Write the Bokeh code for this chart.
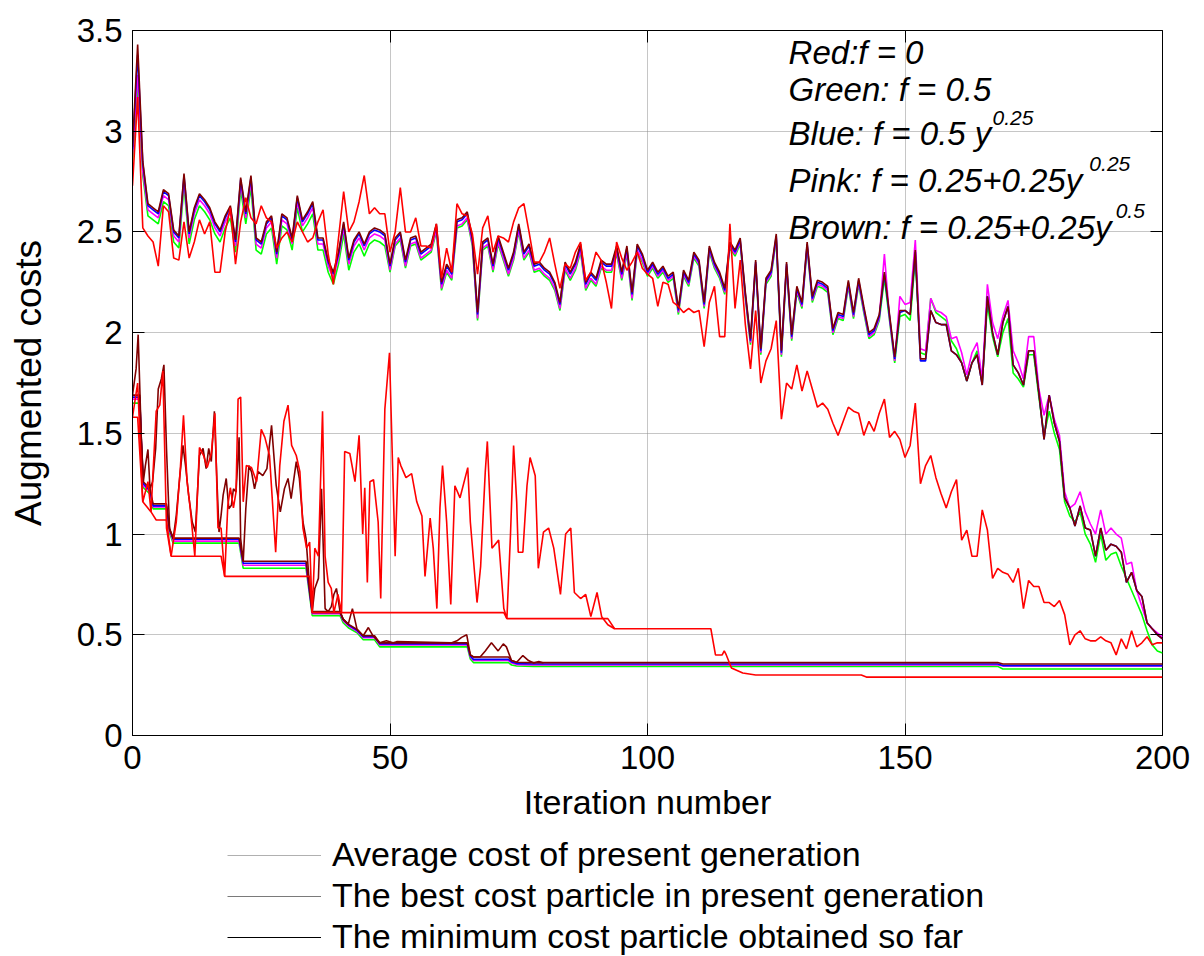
from bokeh.plotting import figure
from bokeh.layouts import column
from bokeh.models import (Range1d, FixedTicker, CustomJSTickFormatter, LinearAxis,
                          Legend, LegendItem, Label)
from bokeh.embed import file_html
from bokeh.resources import INLINE

FONT = "Liberation Sans"

# ---------------- data ----------------
iters = list(range(201))

avg_brown = [2.92,3.43,2.85,2.64,2.62,2.60,2.71,2.69,2.51,2.48,
             2.79,2.50,2.62,2.69,2.66,2.62,2.55,2.51,2.58,2.63,
             2.46,2.77,2.60,2.78,2.47,2.45,2.55,2.58,2.40,2.59,
             2.57,2.47,2.68,2.56,2.60,2.65,2.47,2.47,2.36,2.30,
             2.40,2.55,2.37,2.46,2.50,2.44,2.50,2.52,2.51,2.49,
             2.34,2.47,2.50,2.36,2.47,2.48,2.40,2.42,2.44,2.54,
             2.25,2.34,2.30,2.56,2.57,2.60,2.47,2.10,2.45,2.47,
             2.34,2.48,2.40,2.32,2.40,2.54,2.40,2.44,2.34,2.35,
             2.32,2.30,2.25,2.15,2.35,2.30,2.35,2.44,2.25,2.30,
             2.27,2.36,2.34,2.34,2.43,2.30,2.43,2.20,2.44,2.39,
             2.31,2.35,2.30,2.33,2.28,2.30,2.12,2.31,2.26,2.40,
             2.36,2.15,2.43,2.35,2.30,2.22,2.45,2.41,2.47,2.20,
             1.97,2.36,1.92,2.27,2.31,2.49,1.91,2.35,1.99,2.23,
             2.15,2.45,2.18,2.26,2.25,2.23,2.02,2.10,2.09,2.26,
             2.10,2.27,2.13,2.00,2.02,2.09,2.30,2.09,1.88,2.11,
             2.11,2.09,2.41,1.87,1.87,2.11,2.05,2.04,2.04,1.91,
             1.89,1.85,1.76,1.85,1.89,1.74,2.18,2.00,1.89,2.05,
             2.13,1.84,1.80,1.74,1.91,1.91,1.70,1.47,1.69,1.55,
             1.46,1.18,1.13,1.04,1.14,1.03,1.02,0.89,1.03,0.92,
             0.95,0.94,0.91,0.76,0.81,0.72,0.69,0.56,0.53,0.50,
             0.48]

avg_blue = [2.91,3.38,2.84,2.63,2.61,2.59,2.70,2.68,2.50,2.47,
            2.78,2.49,2.61,2.68,2.65,2.61,2.54,2.50,2.57,2.62,
            2.45,2.76,2.59,2.77,2.46,2.44,2.54,2.57,2.39,2.58,
            2.56,2.46,2.67,2.55,2.59,2.64,2.46,2.46,2.35,2.29,
            2.39,2.54,2.36,2.45,2.49,2.43,2.49,2.51,2.50,2.48,
            2.33,2.46,2.49,2.35,2.46,2.47,2.39,2.41,2.43,2.53,
            2.24,2.33,2.29,2.55,2.56,2.59,2.46,2.09,2.44,2.46,
            2.33,2.47,2.39,2.31,2.39,2.53,2.39,2.43,2.33,2.34,
            2.31,2.29,2.24,2.14,2.34,2.29,2.34,2.43,2.24,2.29,
            2.26,2.35,2.33,2.33,2.42,2.29,2.42,2.19,2.43,2.38,
            2.30,2.34,2.29,2.32,2.27,2.29,2.11,2.30,2.25,2.39,
            2.35,2.14,2.42,2.34,2.29,2.21,2.44,2.40,2.46,2.19,
            1.96,2.35,1.91,2.26,2.30,2.48,1.90,2.34,1.98,2.22,
            2.14,2.44,2.17,2.25,2.24,2.22,2.01,2.09,2.08,2.25,
            2.09,2.26,2.12,1.99,2.01,2.08,2.29,2.08,1.87,2.10,
            2.11,2.09,2.40,1.86,1.86,2.11,2.05,2.04,2.04,1.91,
            1.89,1.85,1.76,1.85,1.89,1.74,2.18,2.00,1.89,2.05,
            2.13,1.84,1.80,1.74,1.91,1.91,1.70,1.47,1.69,1.55,
            1.46,1.18,1.13,1.04,1.14,1.03,1.02,0.89,1.03,0.92,
            0.95,0.94,0.91,0.76,0.81,0.72,0.69,0.56,0.53,0.50,
            0.48]

avg_pink = [2.88,3.28,2.80,2.61,2.59,2.57,2.68,2.66,2.48,2.45,
            2.76,2.47,2.59,2.66,2.63,2.59,2.52,2.48,2.55,2.60,
            2.43,2.74,2.57,2.75,2.44,2.42,2.52,2.55,2.37,2.56,
            2.54,2.44,2.65,2.53,2.57,2.62,2.44,2.44,2.33,2.27,
            2.37,2.52,2.34,2.43,2.47,2.41,2.47,2.49,2.48,2.46,
            2.31,2.44,2.47,2.33,2.44,2.45,2.37,2.39,2.41,2.51,
            2.22,2.31,2.27,2.53,2.54,2.57,2.44,2.07,2.42,2.44,
            2.31,2.45,2.37,2.29,2.37,2.51,2.37,2.41,2.31,2.32,
            2.29,2.27,2.22,2.12,2.32,2.27,2.32,2.41,2.22,2.27,
            2.24,2.33,2.31,2.31,2.40,2.27,2.40,2.17,2.41,2.36,
            2.29,2.33,2.28,2.31,2.26,2.28,2.10,2.29,2.24,2.38,
            2.34,2.13,2.41,2.33,2.28,2.20,2.43,2.39,2.45,2.18,
            1.95,2.34,1.90,2.25,2.29,2.47,1.89,2.33,1.97,2.21,
            2.13,2.43,2.16,2.24,2.23,2.21,2.00,2.08,2.07,2.24,
            2.08,2.25,2.11,1.98,2.00,2.07,2.39,2.07,1.86,2.18,
            2.14,2.15,2.46,1.92,1.91,2.17,2.11,2.10,2.08,1.97,
            1.98,1.90,1.79,1.90,1.95,1.77,2.24,2.05,1.97,2.08,
            2.16,1.91,1.85,1.77,1.98,1.98,1.72,1.59,1.69,1.57,
            1.49,1.21,1.13,1.15,1.21,1.11,1.05,1.00,1.12,1.00,
            1.03,1.00,0.98,0.85,0.86,0.72,0.64,0.56,0.53,0.51,
            0.49]

avg_green = [2.85,3.23,2.78,2.58,2.56,2.54,2.65,2.63,2.45,2.42,
             2.73,2.44,2.56,2.63,2.60,2.56,2.49,2.45,2.52,2.57,
             2.40,2.71,2.54,2.72,2.41,2.39,2.49,2.52,2.34,2.53,
             2.51,2.41,2.62,2.50,2.54,2.59,2.41,2.41,2.30,2.24,
             2.34,2.49,2.31,2.40,2.44,2.38,2.44,2.46,2.45,2.43,
             2.30,2.43,2.46,2.32,2.43,2.44,2.36,2.38,2.40,2.50,
             2.21,2.30,2.26,2.52,2.53,2.56,2.43,2.06,2.41,2.43,
             2.30,2.44,2.36,2.28,2.36,2.50,2.36,2.40,2.30,2.31,
             2.28,2.26,2.21,2.11,2.31,2.26,2.31,2.40,2.21,2.26,
             2.23,2.32,2.30,2.30,2.39,2.26,2.39,2.16,2.40,2.35,
             2.28,2.32,2.27,2.30,2.25,2.27,2.09,2.28,2.23,2.37,
             2.33,2.12,2.40,2.32,2.27,2.19,2.42,2.38,2.44,2.17,
             1.94,2.33,1.89,2.24,2.28,2.46,1.88,2.32,1.96,2.20,
             2.12,2.42,2.15,2.23,2.22,2.20,1.99,2.07,2.06,2.23,
             2.07,2.24,2.10,1.97,1.99,2.06,2.27,2.06,1.85,2.08,
             2.09,2.06,2.37,1.90,1.89,2.17,2.10,2.08,2.06,1.96,
             1.92,1.85,1.76,1.85,1.91,1.75,2.14,1.98,1.88,2.00,
             2.07,1.80,1.77,1.73,1.89,1.89,1.68,1.49,1.61,1.50,
             1.42,1.16,1.09,1.06,1.11,1.00,0.95,0.86,1.00,0.87,
             0.90,0.91,0.84,0.78,0.72,0.66,0.60,0.52,0.45,0.42,
             0.41]

avg_red = [2.73,3.17,2.52,2.48,2.45,2.33,2.63,2.60,2.37,2.36,
           2.55,2.37,2.45,2.56,2.49,2.55,2.30,2.30,2.50,2.62,
           2.34,2.55,2.67,2.57,2.54,2.63,2.57,2.55,2.42,2.47,
           2.50,2.45,2.55,2.50,2.45,2.47,2.55,2.61,2.39,2.24,
           2.47,2.70,2.50,2.55,2.65,2.78,2.59,2.62,2.59,2.59,
           2.40,2.50,2.72,2.50,2.50,2.57,2.43,2.43,2.42,2.54,
           2.27,2.42,2.30,2.64,2.59,2.58,2.49,2.29,2.52,2.58,
           2.40,2.48,2.47,2.45,2.55,2.62,2.64,2.50,2.35,2.35,
           2.40,2.47,2.34,2.22,2.34,2.32,2.40,2.45,2.26,2.30,
           2.40,2.36,2.25,2.12,2.45,2.37,2.31,2.35,2.40,2.32,
           2.29,2.27,2.13,2.25,2.24,2.15,2.13,2.10,2.12,2.10,
           2.11,1.93,2.15,2.23,1.98,1.98,2.54,2.12,2.36,2.04,
           1.82,2.11,1.75,1.86,1.92,2.06,1.57,1.75,1.72,1.84,
           1.71,1.81,1.72,1.63,1.65,1.62,1.55,1.49,1.56,1.63,
           1.61,1.60,1.49,1.56,1.51,1.60,1.67,1.48,1.51,1.47,
           1.38,1.44,1.65,1.25,1.34,1.39,1.28,1.20,1.13,1.21,
           1.27,0.97,1.02,0.89,0.89,1.12,1.02,0.78,0.83,0.81,
           0.80,0.76,0.83,0.63,0.77,0.74,0.74,0.66,0.66,0.64,
           0.67,0.60,0.45,0.50,0.52,0.48,0.47,0.47,0.49,0.47,
           0.46,0.40,0.48,0.43,0.52,0.44,0.46,0.49,0.45,0.46,
           0.46]

# best particle of the present generation (the four non-zero f cases overlap)
best_x = [0,0.7,1.1,1.4,1.7,2.1,2.5,3.0,3.4,3.9,
          4.5,5.0,5.6,6.1,6.6,7.2,7.9,8.5,9.2,9.8,
          10.3,10.9,11.6,12.2,13.0,13.7,14.3,14.8,15.3,15.9,
          16.4,16.8,17.2,17.6,18.2,18.7,19.2,19.6,20.1,20.7,
          21.0,21.5,22.0,22.6,23.1,23.7,24.4,25.3,26.1,27.0,
          27.9,28.7,29.5,30.2,30.8,31.8,32.4,33.1,33.7,34.4,
          34.9,35.4,36.1,36.7,37.4,38.0,38.6,39.1,39.6,40.3,
          40.9,41.9,42.7,43.6,44.8,45.8,46.7,48.0,49.3,50.6,
          51.3,62.0,63.0,63.9,64.9,65.6,66.2,67.5,68.5,69.7,
          71.0,72.0,72.6,73.6,74.6,75.8,76.9,77.9,78.9,79.8]
best_y = [1.69,1.82,1.99,1.74,1.48,1.26,1.34,1.42,1.225,1.26,
          1.425,1.72,1.77,1.84,1.425,1.026,0.977,1.093,1.29,1.44,
          1.34,1.193,1.06,1.01,1.39,1.425,1.325,1.425,1.36,1.61,
          1.26,1.01,1.093,1.193,1.276,1.126,1.143,1.225,1.209,1.48,
          0.977,0.865,1.126,1.34,1.31,1.225,1.31,1.29,1.325,1.54,
          1.242,1.11,1.225,1.276,1.176,1.36,1.276,1.06,0.977,0.73,
          0.615,0.73,0.78,1.225,0.63,0.615,0.64,0.70,0.73,0.615,
          0.578,0.553,0.63,0.527,0.495,0.536,0.495,0.46,0.47,0.46,
          0.466,0.46,0.47,0.487,0.50,0.40,0.39,0.39,0.42,0.46,
          0.42,0.455,0.44,0.372,0.364,0.397,0.372,0.36,0.367,0.36]

best_red_x = [0,1,2,3,3.6,4.6,5.3,5.9,6.6,7.5,
              8.5,9.3,9.9,10.6,11.2,12.1,13.0,13.8,14.5,15.3,
              16.0,16.6,17.2,17.9,18.5,19.0,19.6,20.1,20.5,21.0,
              21.5,22.1,23.1,24.1,25.0,25.7,26.6,27.8,28.6,29.4,
              30.2,30.9,31.8,32.5,33.1,33.8,34.4,34.9,35.4,36.1,
              36.9,37.4,38.0,38.6,39.1,39.9,40.6,41.2,42.2,43.2,
              44.0,44.7,45.1,45.6,46.1,46.8,47.7,48.2,49.0,49.9,
              50.5,51.0,51.6,52.1,53.1,54.2,55.2,56.2,56.8,57.8,
              58.4,59.1,59.7,60.2,61.0,61.8,62.6,63.6,65.1,65.6,
              66.9,67.6,68.5,68.9,69.8,71.1,72.1,72.7,73.4,74.0,
              74.6,74.9,75.8,76.6,77.2,78.2,78.8,79.8,80.8,81.8,
              83.1,84.1,85.1,85.8,87.0,88.0,89.0,90.2,91.1,92.3,
              93.6]
best_red_y = [1.58,1.75,1.16,1.26,1.11,1.61,1.64,1.81,1.03,0.89,
              1.06,1.33,1.59,1.26,1.13,0.89,1.43,1.39,1.33,1.40,
              1.60,1.03,1.03,0.79,1.14,1.23,1.13,1.21,1.67,1.68,
              1.16,1.34,1.33,1.26,1.52,1.48,1.39,0.91,1.34,1.56,
              1.64,1.44,1.39,1.31,1.03,0.93,0.96,0.61,0.93,0.89,
              1.61,0.89,0.76,0.73,0.61,0.70,0.61,1.41,1.40,1.26,
              1.49,1.00,1.23,0.76,1.26,1.27,1.06,0.68,1.62,1.90,
              1.34,0.89,1.38,1.34,1.28,1.30,1.16,1.09,0.79,1.08,
              0.93,0.63,1.13,1.34,1.06,0.65,1.24,1.18,1.33,1.06,
              0.66,0.84,1.31,1.46,0.93,0.97,0.63,0.58,1.00,1.44,
              1.16,0.91,0.91,1.24,1.38,1.29,0.83,1.01,1.03,0.93,
              0.70,1.00,1.03,0.71,0.68,0.70,0.59,0.71,0.59,0.55,
              0.53]

# minimum cost particle obtained so far
min_x = [0,1.4,1.7,2.1,3.4,4.0,6.6,7.2,7.9,20.7,
         21.5,33.7,34.9,40.3,40.9,41.9,43.6,44.8,47.0,48.0,
         65.0,65.6,66.2,73.0,73.6,74.6,77.9,168,169,200]
min_brown = [1.69,1.69,1.48,1.26,1.225,1.15,1.15,1.026,0.98,0.98,
             0.865,0.865,0.615,0.615,0.578,0.553,0.527,0.495,0.495,0.46,
             0.46,0.40,0.39,0.39,0.372,0.364,0.362,0.362,0.355,0.355]
min_blue = [1.68,1.68,1.47,1.25,1.215,1.14,1.14,1.02,0.975,0.975,
            0.855,0.855,0.61,0.61,0.575,0.55,0.522,0.49,0.49,0.455,
            0.455,0.395,0.378,0.378,0.365,0.357,0.355,0.355,0.347,0.347]
min_pink = [1.67,1.67,1.46,1.24,1.21,1.135,1.135,1.015,0.965,0.965,
            0.845,0.845,0.605,0.605,0.57,0.545,0.517,0.485,0.485,0.45,
            0.45,0.39,0.372,0.372,0.36,0.352,0.35,0.35,0.345,0.345]
min_green = [1.65,1.65,1.45,1.23,1.20,1.125,1.125,1.005,0.955,0.955,
             0.83,0.83,0.595,0.595,0.56,0.535,0.51,0.475,0.475,0.44,
             0.44,0.38,0.362,0.362,0.35,0.345,0.343,0.343,0.33,0.33]

min_red_x = [0,1,2,3.6,4.6,6.6,7.5,17.2,17.9,34.4,34.9,72.1,72.7,92.3,93.6,
             112.3,113.2,114.5,114.9,115.3,116.3,118.5,121,141.5,142.5,200]
min_red_y = [1.58,1.58,1.16,1.11,1.07,1.07,0.89,0.89,0.79,0.79,0.61,0.61,0.58,0.58,0.53,
             0.53,0.40,0.40,0.42,0.40,0.335,0.31,0.30,0.30,0.29,0.29]

x_ticks = [0, 50, 100, 150, 200]
y_ticks = [0, 0.5, 1, 1.5, 2, 2.5, 3, 3.5]

legend_labels = ["Average cost of present generation",
                 "The best cost particle in present generation",
                 "The minimum cost particle obtained so far"]

formula_lines = ["Red:f = 0", "Green: f = 0.5", "Blue: f = 0.5 y",
                 "Pink: f = 0.25+0.25y", "Brown: f = 0.25+0.25y"]
formula_sups = ["", "", "0.25", "0.25", "0.5"]

# ---------------- main figure ----------------
RED, GREEN, BLUE, PINK, BROWN = "#ff0000", "#00ff00", "#0000ff", "#ff00ff", "#800000"
W = 1204

p = figure(width=W, height=833, x_range=Range1d(0, 200), y_range=Range1d(0, 3.5),
           output_backend="svg", toolbar_location=None,
           min_border_left=132, min_border_right=42, min_border_top=30, min_border_bottom=98)
p.background_fill_color = "white"
p.border_fill_color = "white"
p.outline_line_color = "black"
p.outline_line_width = 1

fmt = CustomJSTickFormatter(code="return tick.toString();")

xa = p.xaxis[0]
ya = p.yaxis[0]
for ax, ticks in ((xa, x_ticks), (ya, y_ticks)):
    ax.ticker = FixedTicker(ticks=ticks)
    ax.formatter = fmt
    ax.major_tick_in = 12
    ax.major_tick_out = 0
    ax.minor_tick_line_color = None
    ax.axis_line_color = "black"
    ax.major_tick_line_color = "black"
    ax.major_label_text_font = FONT
    ax.major_label_text_font_size = "33px"
    ax.major_label_text_color = "black"
    ax.axis_label_text_font = FONT
    ax.axis_label_text_font_style = "normal"
    ax.axis_label_text_color = "black"

xa.axis_label = "Iteration number"
xa.axis_label_text_font_size = "34px"
xa.major_label_standoff = 10
xa.axis_label_standoff = 11
ya.axis_label = "Augmented costs"
ya.axis_label_text_font_size = "37px"
ya.major_label_standoff = 10
ya.axis_label_standoff = 25

blank = CustomJSTickFormatter(code="return '';")
for side, ticks in (("right", y_ticks), ("above", x_ticks)):
    ax = LinearAxis(ticker=FixedTicker(ticks=ticks), formatter=blank,
                    major_tick_in=12, major_tick_out=0, minor_tick_line_color=None,
                    axis_line_color=None, major_label_standoff=0,
                    major_label_text_font_size="0px")
    p.add_layout(ax, side)

p.xgrid.ticker = FixedTicker(ticks=x_ticks)
p.ygrid.ticker = FixedTicker(ticks=y_ticks)
p.grid.grid_line_color = "#8c8c8c"
p.grid.grid_line_dash = "1 1"
p.grid.grid_line_width = 1

LW = 1.6
for col, mn, av in ((GREEN, min_green, avg_green), (PINK, min_pink, avg_pink),
                    (BLUE, min_blue, avg_blue), (BROWN, min_brown, avg_brown)):
    p.line(min_x, mn, line_color=col, line_width=LW)
    p.line(iters, av, line_color=col, line_width=LW)
p.line(best_x, best_y, line_color=BROWN, line_width=LW)
p.line(min_red_x, min_red_y, line_color=RED, line_width=LW)
p.line(best_red_x, best_red_y, line_color=RED, line_width=LW)
p.line(iters, avg_red, line_color=RED, line_width=LW)

# formula annotations (top right)
text_x = 127.4
line_y = [3.390, 3.208, 2.987, 2.754, 2.522]
sup_x = [None, None, 167.0, 185.8, 190.9]
sup_y = [None, None, 3.068, 2.838, 2.605]
for i, t in enumerate(formula_lines):
    p.add_layout(Label(x=text_x, y=line_y[i], text=t, text_font=FONT,
                       text_font_style="italic", text_font_size="33px",
                       text_baseline="alphabetic", text_color="black"))
    if formula_sups[i]:
        p.add_layout(Label(x=sup_x[i], y=sup_y[i], text=formula_sups[i], text_font=FONT,
                           text_font_style="italic", text_font_size="21px",
                           text_baseline="alphabetic", text_color="black"))

# ---------------- legend strip below ----------------
q = figure(width=W, height=123, x_range=Range1d(0, 1), y_range=Range1d(0, 1),
           output_backend="svg", toolbar_location=None,
           x_axis_type=None, y_axis_type=None,
           min_border_left=0, min_border_right=0, min_border_top=0, min_border_bottom=0)
q.grid.visible = False
q.outline_line_color = None
q.background_fill_color = "white"
q.border_fill_color = "white"

# style carriers for the legend samples (one off-range vertex, nothing drawn in the frame)
r_avg = q.line(x=[-1], y=[-1], line_color="#b0b0b0", line_width=1)
r_best = q.line(x=[-1], y=[-1], line_color="#7a7a7a", line_width=1)
r_min = q.line(x=[-1], y=[-1], line_color="black", line_width=1)
legend = Legend(items=[LegendItem(label=legend_labels[0], renderers=[r_avg]),
                       LegendItem(label=legend_labels[1], renderers=[r_best]),
                       LegendItem(label=legend_labels[2], renderers=[r_min])],
                location=(95, 0), orientation="vertical",
                border_line_color=None, background_fill_alpha=0,
                label_text_font=FONT, label_text_font_size="34px", label_text_color="black",
                glyph_width=94, glyph_height=20, label_standoff=11,
                spacing=2, padding=0, margin=0)
q.add_layout(legend)

open("out.html", "w").write(file_html(column(p, q, spacing=0), INLINE))
